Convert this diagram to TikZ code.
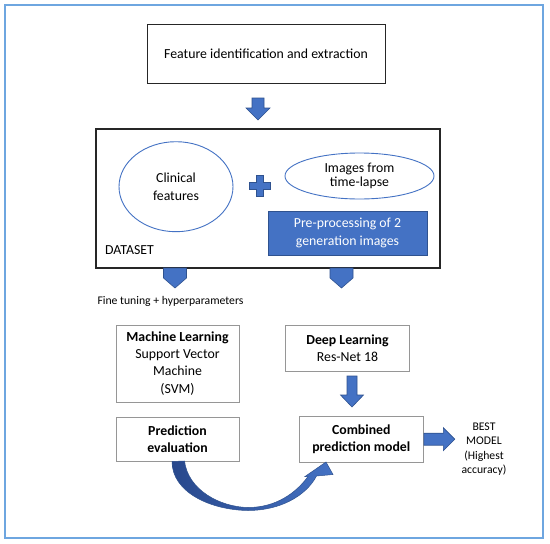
\documentclass[tikz,border=0pt]{standalone}
\usepackage{fontspec}
\setmainfont{Carlito}
\usetikzlibrary{shapes.geometric,calc}
\definecolor{frameblue}{RGB}{110,166,224}
\definecolor{arrowblue}{RGB}{68,114,196}
\definecolor{arrowedge}{RGB}{47,82,143}
\definecolor{darkarrow}{RGB}{40,72,140}
\definecolor{boxgray}{RGB}{150,150,150}
\tikzset{
  txt/.style={font=\fontsize{13.8}{17.2}\selectfont, align=center, inner sep=0pt},
  smalltxt/.style={font=\fontsize{11.7}{14.3}\selectfont, align=center, inner sep=0pt},
  blackbox/.style={draw=black!85, line width=1pt, fill=white, txt},
  graybox/.style={draw=boxgray, line width=1pt, fill=white, txt},
  ovalnode/.style={ellipse, draw=arrowblue, line width=0.9pt, txt},
  bluebox/.style={fill=arrowblue, draw=arrowedge, line width=0.6pt, txt, text=white},
  blockarrow/.style={fill=arrowblue, draw=arrowedge, line width=0.6pt, line join=miter},
}
\begin{document}
\begin{tikzpicture}[x=1pt,y=-1pt]
\useasboundingbox (0,0) rectangle (550,544);
\fill[white] (0,0) rectangle (550,544);
\draw[frameblue, line width=1.5pt] (5,5) rectangle (543,538);

% top box
\node[blackbox, minimum width=238, minimum height=59] (feat) at (266,53.5) {Feature identification and extraction};

% arrow down to dataset
\coordinate (a1) at (258,98);
\path[blockarrow] (a1) ++(-6,0) -- ++(12,0) -- ++(0,10) -- ++(6,0) -- ++(-12,12) -- ++(-12,-12) -- ++(6,0) -- cycle;

% dataset box
\node[draw=black!85, line width=1.2pt, minimum width=344, minimum height=139, inner sep=0pt] (dataset) at (268,198.5) {};
\node[txt, anchor=west] (dslabel) at (105,250) {DATASET};
\node[ovalnode, minimum width=114, minimum height=90] (clin) at (176,186.7) {Clinical\\features};
\node[ovalnode, minimum width=149, minimum height=46] (imgs) at (359.5,176) {\raisebox{2pt}{\begin{tabular}{@{}c@{}}Images from\\[-2.6pt]time-lapse\end{tabular}}};
\node[bluebox, minimum width=159, minimum height=44] (pre) at (347.5,233) {Pre-processing of 2\\generation images};

% plus sign
\coordinate (plus) at (259.7,185.8);
\path[blockarrow] (plus) ++(-3.5,-10.5) -- ++(7,0) -- ++(0,7) -- ++(7,0) -- ++(0,7) -- ++(-7,0) -- ++(0,7) -- ++(-7,0) -- ++(0,-7) -- ++(-7,0) -- ++(0,-7) -- ++(7,0) -- cycle;

% pentagon arrows below dataset
\coordinate (p1) at (175,268);
\coordinate (p2) at (341.5,268);
\foreach \p in {p1,p2}{
  \path[blockarrow] (\p) ++(-11.5,0) -- ++(23,0) -- ++(0,10) -- ++(-11.5,10) -- ++(-11.5,-10) -- cycle;
}
\node[smalltxt] (fine) at (170.5,301.7) {Fine tuning + hyperparameters};

% lower boxes
\node[graybox, minimum width=123, minimum height=77] (ml) at (177.5,363.5) {\textbf{Machine Learning}\\Support Vector\\Machine\\(SVM)};
\node[graybox, minimum width=124, minimum height=46] (dl) at (347.5,348) {\textbf{Deep Learning}\\Res-Net 18};
\node[graybox, minimum width=123, minimum height=44] (pe) at (177.5,439) {\textbf{Prediction}\\\textbf{evaluation}};
\node[graybox, minimum width=124, minimum height=46] (comb) at (361.3,439.2) {\textbf{Combined}\\\textbf{prediction model}};
\node[smalltxt] (best) at (484,449) {BEST\\MODEL\\(Highest\\accuracy)};

% arrow DL -> combined
\coordinate (a2) at (352,376);
\path[blockarrow] (a2) ++(-5,0) -- ++(10,0) -- ++(0,19) -- ++(6.5,0) -- ++(-11.5,12) -- ++(-11.5,-12) -- ++(6.5,0) -- cycle;

% arrow combined -> best
\coordinate (a3) at (comb.east);
\path[blockarrow] (a3) ++(0,-6) -- ++(19.5,0) -- ++(0,-5.5) -- ++(11.5,11.5) -- ++(-11.5,11.5) -- ++(0,-5.5) -- ++(-19.5,0) -- cycle;

% curved arrow pe -> comb
\coordinate (c0) at ($(pe.south)+(-5.5,0)$);
\path[left color=darkarrow, right color=arrowblue, draw=arrowedge, line width=0.5pt]
  (c0) .. controls (172,492) and (210,510) .. (248,510.5)
  .. controls (280,510.5) and (306,496) .. (316.5,476)
  -- (333,474.5) -- (326,462) -- (305,476.5) -- (308,476.5)
  .. controls (296,493) and (276,507.5) .. (248,507.5)
  .. controls (220,507) and (188,490) .. (184.5,461) -- cycle;
\end{tikzpicture}
\end{document}
